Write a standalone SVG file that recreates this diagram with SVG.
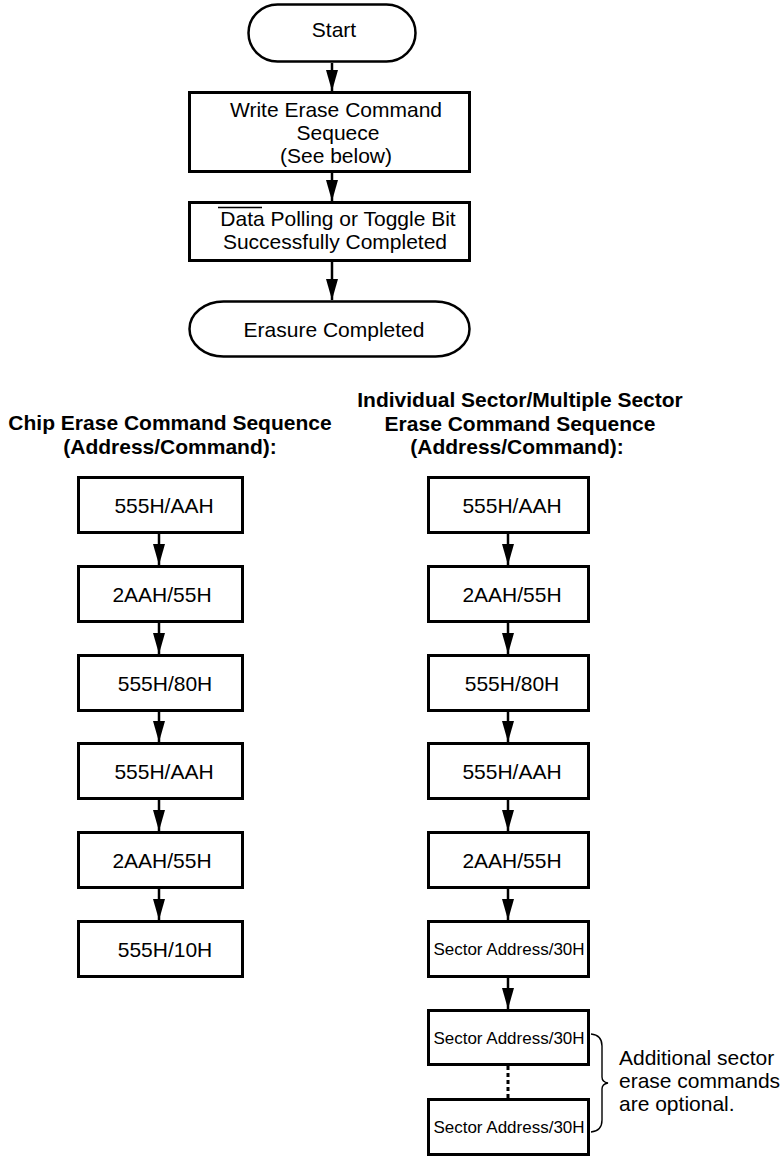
<svg xmlns="http://www.w3.org/2000/svg" width="784" height="1156" viewBox="0 0 784 1156">
<style>
text{font-family:"Liberation Sans",Arial,sans-serif;font-size:21px;fill:#000;text-anchor:middle}
.b{font-weight:bold}
.s{font-size:17px}
.l{text-anchor:start}
.box{fill:#fff;stroke:#000;stroke-width:3}
.term{fill:#fff;stroke:#000;stroke-width:2.5}
.arr{stroke:#000;stroke-width:2.5;fill:none;marker-end:url(#ah)}
.dash{stroke:#000;stroke-width:3;stroke-dasharray:4 3;fill:none}
.brace{stroke:#000;stroke-width:1.4;fill:none}
</style>
<defs>
<marker id="ah" markerUnits="userSpaceOnUse" viewBox="0 0 21 12" markerWidth="21" markerHeight="12" refX="21" refY="6" orient="auto">
<path d="M0,0 L21,6 L0,12 z" fill="#000"/>
</marker>
</defs>
<g id="connectors">
<line class="arr" x1="332" y1="63" x2="332" y2="91"/>
<line class="arr" x1="332" y1="173" x2="332" y2="201"/>
<line class="arr" x1="332" y1="262" x2="332" y2="300"/>
<line class="arr" x1="159" y1="534" x2="159" y2="565"/>
<line class="arr" x1="159" y1="623" x2="159" y2="654"/>
<line class="arr" x1="159" y1="712" x2="159" y2="742"/>
<line class="arr" x1="159" y1="800" x2="159" y2="831"/>
<line class="arr" x1="159" y1="889" x2="159" y2="920"/>
<line class="arr" x1="508" y1="534" x2="508" y2="565"/>
<line class="arr" x1="508" y1="623" x2="508" y2="654"/>
<line class="arr" x1="508" y1="712" x2="508" y2="742"/>
<line class="arr" x1="508" y1="800" x2="508" y2="831"/>
<line class="arr" x1="508" y1="889" x2="508" y2="920"/>
<line class="arr" x1="508" y1="978" x2="508" y2="1009"/>
<line class="dash" x1="508" y1="1066" x2="508" y2="1098"/>
</g>
<g id="start">
<rect class="term" x="248.5" y="4.5" width="167" height="57" rx="29" ry="28.5"/>
<text x="334" y="37">Start</text>
</g>
<g id="write">
<rect class="box" x="189.5" y="92.5" width="280" height="79"/>
<text x="336" y="117">Write Erase Command</text>
<text x="338" y="140">Sequece</text>
<text x="336" y="163">(See below)</text>
</g>
<g id="polling">
<rect class="box" x="189.5" y="202.5" width="280" height="58"/>
<text x="338" y="226">Data Polling or Toggle Bit</text>
<line x1="218" y1="207.5" x2="262" y2="207.5" stroke="#000" stroke-width="1.3"/>
<text x="335" y="249">Successfully Completed</text>
</g>
<g id="erasure">
<rect class="term" x="189.5" y="301.5" width="280" height="55" rx="34" ry="27.5"/>
<text x="334" y="337">Erasure Completed</text>
</g>
<g id="chip-title">
<text class="b" x="170" y="430">Chip Erase Command Sequence</text>
<text class="b" x="170" y="454">(Address/Command):</text>
</g>
<g id="sector-title">
<text class="b" x="520" y="407">Individual Sector/Multiple Sector</text>
<text class="b" x="520" y="431">Erase Command Sequence</text>
<text class="b" x="517" y="454">(Address/Command):</text>
</g>
<g id="c1"><rect class="box" x="78.5" y="477.5" width="164" height="55"/><text x="164" y="513">555H/AAH</text></g>
<g id="c2"><rect class="box" x="78.5" y="566.5" width="164" height="55"/><text x="162" y="602">2AAH/55H</text></g>
<g id="c3"><rect class="box" x="78.5" y="655.5" width="164" height="55"/><text x="165" y="691">555H/80H</text></g>
<g id="c4"><rect class="box" x="78.5" y="743.5" width="164" height="55"/><text x="164" y="779">555H/AAH</text></g>
<g id="c5"><rect class="box" x="78.5" y="832.5" width="164" height="55"/><text x="162" y="868">2AAH/55H</text></g>
<g id="c6"><rect class="box" x="78.5" y="921.5" width="164" height="55"/><text x="165" y="957">555H/10H</text></g>
<g id="s1"><rect class="box" x="428.5" y="477.5" width="160" height="55"/><text x="512" y="513">555H/AAH</text></g>
<g id="s2"><rect class="box" x="428.5" y="566.5" width="160" height="55"/><text x="512" y="602">2AAH/55H</text></g>
<g id="s3"><rect class="box" x="428.5" y="655.5" width="160" height="55"/><text x="512" y="691">555H/80H</text></g>
<g id="s4"><rect class="box" x="428.5" y="743.5" width="160" height="55"/><text x="512" y="779">555H/AAH</text></g>
<g id="s5"><rect class="box" x="428.5" y="832.5" width="160" height="55"/><text x="512" y="868">2AAH/55H</text></g>
<g id="s6"><rect class="box" x="428.5" y="921.5" width="160" height="55"/><text class="s" x="509" y="955">Sector Address/30H</text></g>
<g id="s7"><rect class="box" x="428.5" y="1010.5" width="160" height="54"/><text class="s" x="509" y="1044">Sector Address/30H</text></g>
<g id="s8"><rect class="box" x="428.5" y="1099.5" width="160" height="55"/><text class="s" x="509" y="1133">Sector Address/30H</text></g>
<g id="brace-note">
<path class="brace" d="M591,1034 Q602,1035 602,1046 L602,1077 Q602,1082 608,1083 Q602,1084 602,1089 L602,1120 Q602,1131 591,1132"/>
<text class="l" x="619" y="1065">Additional sector</text>
<text class="l" x="619" y="1088">erase commands</text>
<text class="l" x="619" y="1111">are optional.</text>
</g>
</svg>
